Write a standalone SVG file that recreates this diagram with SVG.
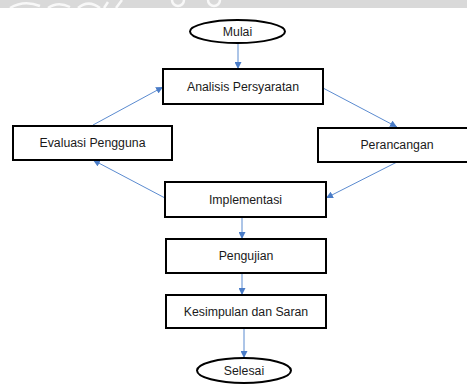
<svg xmlns="http://www.w3.org/2000/svg" width="467" height="384" viewBox="0 0 467 384">
<style>
.box{fill:#fff;stroke:#000;stroke-width:2}
.t{font-family:"Liberation Sans",Arial,sans-serif;font-size:12.3px;fill:#1a1a1a;text-anchor:middle;dominant-baseline:central}
.c{stroke:#5b8bd0;stroke-width:1;fill:none}
.wm{fill:none;stroke:#fff;stroke-width:2.5;opacity:0.8}
</style>
<defs>
<marker id="ah" viewBox="0 0 10 10" refX="10" refY="5" markerWidth="7" markerHeight="7" markerUnits="userSpaceOnUse" orient="auto">
<path d="M0,0 L10,5 L0,10 z" fill="#4a7cc7"/>
</marker>
</defs>
<rect width="467" height="384" fill="#fff"/>
<g id="watermark">
<rect x="0" y="0" width="467" height="8" fill="#d9d9d9"/>
<path class="wm" d="M10,8 C20,2 30,2 40,6 M48,8 C55,3 62,3 70,7 M78,8 C85,2 92,2 100,8 M108,2 L104,8 M122,0 L116,8"/>
<circle class="wm" cx="178" cy="0" r="6"/>
<circle class="wm" cx="214" cy="0" r="6"/>
</g>
<g id="connectors">
<line class="c" x1="238" y1="43" x2="238" y2="69" marker-end="url(#ah)"/>
<line class="c" x1="323" y1="88" x2="397" y2="127" marker-end="url(#ah)"/>
<line class="c" x1="397" y1="162" x2="326" y2="198" marker-end="url(#ah)"/>
<line class="c" x1="165" y1="198" x2="93" y2="160" marker-end="url(#ah)"/>
<line class="c" x1="93" y1="125" x2="163" y2="87" marker-end="url(#ah)"/>
<line class="c" x1="242" y1="217" x2="242" y2="239" marker-end="url(#ah)"/>
<line class="c" x1="242" y1="273" x2="242" y2="295" marker-end="url(#ah)"/>
<line class="c" x1="244" y1="328" x2="244" y2="358" marker-end="url(#ah)"/>
</g>
<g id="mulai">
<ellipse class="box" cx="237.5" cy="31.5" rx="47.5" ry="11.5"/>
<text class="t" x="237.5" y="31.5">Mulai</text>
</g>
<g id="analisis">
<rect class="box" x="163" y="69" width="160" height="35"/>
<text class="t" x="243" y="86.5">Analisis Persyaratan</text>
</g>
<g id="perancangan">
<rect class="box" x="318" y="128" width="160" height="34"/>
<text class="t" x="397" y="145">Perancangan</text>
</g>
<g id="evaluasi">
<rect class="box" x="13" y="126" width="159" height="34"/>
<text class="t" x="92.5" y="143">Evaluasi Pengguna</text>
</g>
<g id="implementasi">
<rect class="box" x="165" y="182" width="161" height="35"/>
<text class="t" x="245.5" y="199.5">Implementasi</text>
</g>
<g id="pengujian">
<rect class="box" x="166" y="239" width="160" height="34"/>
<text class="t" x="246" y="256">Pengujian</text>
</g>
<g id="kesimpulan">
<rect class="box" x="166" y="295" width="160" height="33"/>
<text class="t" x="246" y="311.5">Kesimpulan dan Saran</text>
</g>
<g id="selesai">
<ellipse class="box" cx="244" cy="370.5" rx="47" ry="12.5"/>
<text class="t" x="244" y="370.5">Selesai</text>
</g>
</svg>
